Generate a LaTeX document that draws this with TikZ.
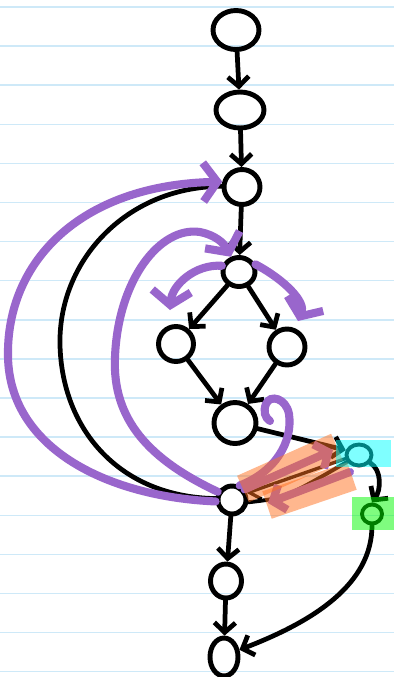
\documentclass[tikz,border=0pt]{standalone}
\usetikzlibrary{shapes.geometric,arrows.meta}
\definecolor{paper}{RGB}{206,233,248}
\definecolor{purp}{RGB}{153,102,204}
\definecolor{hlorange}{RGB}{255,112,30}
\definecolor{hlcyan}{RGB}{0,255,255}
\definecolor{hlgreen}{RGB}{0,250,0}
\tikzset{
  nd/.style={ellipse,draw=black,line width=2.8pt,inner sep=0pt},
  ndthin/.style={ellipse,draw=black,line width=2.2pt,inner sep=0pt},
  edge/.style={draw=black,line width=2.7pt,line cap=round,line join=round,-{Straight Barb[length=5.5pt,width=12pt]}},
  plain/.style={draw=black,line width=2.7pt,line cap=round},
  pa/.style={draw=purp,line width=4.6pt,line cap=round,line join=round,-{Straight Barb[length=8pt,width=22pt]}},
  pb/.style={draw=purp,line width=4.6pt,line cap=round,line join=round,-{Straight Barb[length=6pt,width=15pt]}},
  pl/.style={draw=purp,line width=4.6pt,line cap=round},
  band/.style={draw=hlorange,opacity=0.5,line width=16.5pt},
  hlbox/.style={opacity=0.5},
  rule/.style={draw=paper,line width=0.9pt}
}
\begin{document}
\begin{tikzpicture}[x=0.02cm,y=-0.02cm]
\useasboundingbox (0,0) rectangle (394,677);
\fill[white] (0,0) rectangle (394,677);
\clip (0,0) rectangle (394,677);
% ruled paper
\foreach \k in {0,...,17}{
  \draw[rule] (0,{7+39.1*\k}) -- (394,{7+39.1*\k});
}
% nodes
\node[nd,minimum width=0.92cm,minimum height=0.78cm] (n1) at (236,30) {};
\node[nd,minimum width=0.96cm,minimum height=0.72cm] (n2) at (240,110) {};
\node[nd,minimum width=0.72cm,minimum height=0.70cm] (n3) at (242,187) {};
\node[nd,minimum width=0.64cm,minimum height=0.58cm] (n4) at (239,272) {};
\node[nd,minimum width=0.70cm,minimum height=0.70cm] (n5) at (176,344) {};
\node[nd,minimum width=0.72cm,minimum height=0.72cm] (n6) at (287,347) {};
\node[nd,minimum width=0.84cm,minimum height=0.82cm] (n7) at (235,423) {};
\node[nd,minimum width=0.56cm,minimum height=0.56cm] (n8) at (232,500) {};
\node[ndthin,minimum width=0.50cm,minimum height=0.42cm] (n9) at (359,455) {};
\node[ndthin,minimum width=0.40cm,minimum height=0.38cm] (n10) at (372,514) {};
\node[nd,minimum width=0.62cm,minimum height=0.68cm] (n11) at (226,581) {};
\node[nd,minimum width=0.56cm,minimum height=0.76cm] (n12) at (224,657) {};
% free ends of annotation arrows
\coordinate (pl1) at (170,310);
\coordinate (pr1) at (298,321);
\coordinate (curl) at (270,421);
\coordinate (bu) at (333,450);
\coordinate (bls) at (350,472);
\coordinate (ble) at (268,503);
% black edges
\draw[edge] (n1) -- (n2);
\draw[edge] (n2) -- (n3);
\draw[edge] (n3) -- (n4);
\draw[edge] (n4) -- (n5);
\draw[edge] (n4) -- (n6);
\draw[edge] (n5) -- (n7);
\draw[edge] (n6) -- (n7);
\draw[edge] (n7.-14) -- (n9.160);
\draw[edge,line width=1.9pt] (n9.195) -- (n8.25);
\draw[plain,line width=2.2pt] (n8.-8) .. controls (285,498) .. (n9.210);
\draw[edge] (n9.-35) .. controls (382,470) and (381,490) .. (n10.north);
\draw[edge] (n10.south) .. controls (372,585) and (312,622) .. (n12.25);
\draw[edge] (n8) -- (n11);
\draw[edge] (n11) -- (n12);
\draw[plain] (n8.175) .. controls (120,497) and (62,430) .. (60,345)
             .. controls (58,262) and (125,187) .. (n3.178);
% purple annotations
\draw[pa] (n8.185) .. controls (110,497) and (10,450) .. (8,357)
          .. controls (6,262) and (80,185) .. (n3.165);
\draw[pa] (n8.150) .. controls (150,460) and (112,420) .. (115,357)
          .. controls (118,280) and (160,226) .. (200,232)
          .. controls (215,235) and (224,243) .. (n4.118);
\draw[pa] (n4.160) .. controls (195,264) and (172,285) .. (pl1);
\draw[pa] (n4.25) .. controls (285,280) and (306,302) .. (pr1);
\draw[pl] (n8.62) .. controls (275,472) and (293,442) .. (289,414)
          .. controls (286,398) and (270,394) .. (266,404)
          .. controls (263,411) and (265,418) .. (curl);
\draw[pb] (n8.40) -- (bu);
\draw[pb] (bls) -- (ble);
% highlighter strokes
\draw[band] (243,489) -- (337,447);
\draw[band] (267,505) -- (352,476);
\fill[hlcyan,hlbox] (336,440) rectangle (391,467);
\fill[hlgreen,hlbox] (352,497) rectangle (394,530);
\end{tikzpicture}
\end{document}
